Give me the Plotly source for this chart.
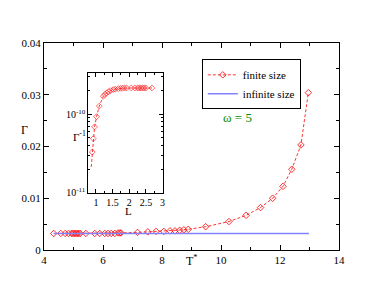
import plotly.graph_objects as go

# Main panel data: finite size
T_finite = [4.33, 4.57, 4.72, 4.83, 4.93, 4.98, 5.03, 5.08, 5.13, 5.18, 5.23, 5.42, 5.72,
            5.89, 6.06, 6.17, 6.28, 6.40, 6.51, 6.57, 6.61, 7.17, 7.52, 7.80, 8.06, 8.27,
            8.44, 8.60, 8.74, 8.89, 9.48, 10.27, 10.85, 11.34, 11.75, 12.10, 12.40, 12.71, 12.96]
G_finite = [0.0032, 0.0032, 0.0032, 0.0032, 0.0032, 0.0032, 0.0032, 0.0032, 0.0032, 0.0032,
            0.0032, 0.0032, 0.0032, 0.0032, 0.0032, 0.0032, 0.0032, 0.0032, 0.0033, 0.0033,
            0.0033, 0.0034, 0.0035, 0.0036, 0.0036, 0.0037, 0.0037, 0.0038, 0.0039, 0.0040,
            0.0045, 0.0055, 0.0067, 0.0082, 0.0100, 0.0123, 0.0156, 0.0203, 0.0304]

# Main panel data: infinite size
T_infinite = [4.33, 12.98]
G_infinite = [0.0032, 0.0032]

# Inset data
L_inset = [0.86, 0.89, 0.92, 0.96, 1.02, 1.10, 1.22, 1.27, 1.32, 1.38, 1.44, 1.52, 1.58,
           1.67, 1.74, 1.80, 1.86, 1.92, 2.06, 2.17, 2.25, 2.30, 2.35, 2.40, 2.45, 2.50, 2.68]
Ginv_inset = [2.14e-11, 3.31e-11, 4.90e-11, 6.92e-11, 9.33e-11, 1.27e-10, 1.69e-10, 1.79e-10,
              1.87e-10, 1.94e-10, 2.00e-10, 2.06e-10, 2.09e-10, 2.12e-10, 2.14e-10, 2.15e-10,
              2.16e-10, 2.16e-10, 2.16e-10, 2.16e-10, 2.16e-10, 2.16e-10, 2.16e-10, 2.16e-10,
              2.16e-10, 2.16e-10, 2.16e-10]

x_ticks = [4, 6, 8, 10, 12, 14]
y_ticks = [0, 0.01, 0.02, 0.03, 0.04]
inset_x_ticks = [1, 1.5, 2, 2.5, 3]
inset_y_ticks = [1e-11, 1e-10]
inset_y_ticktext = ["10<sup>-11</sup>", "10<sup>-10</sup>"]

RED = "rgba(255,0,0,0.8)"
BLUE = "rgb(130,130,255)"
FONT = "Liberation Serif, Times New Roman, serif"

fig = go.Figure()
fig.add_trace(go.Scatter(
    x=T_finite, y=G_finite, mode="lines+markers", name="finite size",
    line=dict(color=RED, width=1, dash="3px,2px"),
    marker=dict(symbol="diamond-open", size=5, color=RED, line=dict(width=1)),
))
fig.add_trace(go.Scatter(
    x=T_infinite, y=G_infinite, mode="lines", name="infinite size",
    line=dict(color=BLUE, width=1.5),
))
fig.add_trace(go.Scatter(
    x=L_inset, y=Ginv_inset, mode="lines+markers", showlegend=False,
    xaxis="x2", yaxis="y2",
    line=dict(color=RED, width=1, dash="3px,2px"),
    marker=dict(symbol="diamond-open", size=[0] + [4.5] * (len(L_inset) - 1), color=RED,
                line=dict(width=1)),
))

axis_common = dict(showline=True, linecolor="black", linewidth=1, mirror="allticks",
                   ticks="inside", showgrid=False, zeroline=False, automargin=False,
                   tickcolor="black",
                   tickfont=dict(family=FONT, size=11, color="black"))
inset_common = dict(showline=True, linecolor="black", linewidth=1, mirror="allticks",
                    ticks="inside", showgrid=False, zeroline=False, automargin=False,
                    tickcolor="black",
                    tickfont=dict(family=FONT, size=10, color="black"))

fig.update_layout(
    template="none",
    width=382, height=295,
    margin=dict(l=36, r=51, t=35, b=53, autoexpand=False),
    paper_bgcolor="white", plot_bgcolor="white",
    font=dict(family=FONT, color="black"),
    xaxis=dict(range=[4, 14], tickvals=x_ticks, ticklen=5,
               minor=dict(dtick=1, ticks="inside", ticklen=3, tickcolor="black"),
               **axis_common),
    yaxis=dict(range=[0, 0.04], tickvals=y_ticks, ticklen=5,
               minor=dict(dtick=0.005, ticks="inside", ticklen=3, tickcolor="black"),
               **axis_common),
    xaxis2=dict(domain=[0.150, 0.402], anchor="y2", range=[0.77, 3], tickvals=inset_x_ticks,
                ticklen=4, minor=dict(dtick=0.25, ticks="inside", ticklen=2, tickcolor="black"),
                **inset_common),
    yaxis2=dict(domain=[0.276, 0.855], anchor="x2", type="log", range=[-11, -9.475],
                tickvals=inset_y_ticks, ticktext=inset_y_ticktext, ticklen=4,
                minor=dict(tickvals=[2e-11, 3e-11, 4e-11, 5e-11, 6e-11, 7e-11, 8e-11, 9e-11,
                                     2e-10, 3e-10],
                           ticks="inside", ticklen=2, tickcolor="black"),
                **inset_common),
    legend=dict(x=0.535, y=0.921, xanchor="left", yanchor="top",
                bgcolor="white", bordercolor="black", borderwidth=1,
                font=dict(family=FONT, size=11, color="black"),
                itemwidth=30, tracegroupgap=0),
    showlegend=True,
    annotations=[
        dict(text="ω = 5", x=0.657, y=0.642, xref="paper", yref="paper", showarrow=False,
             font=dict(family=FONT, size=13, color="rgb(0,139,0)")),
        dict(text="Γ", x=-0.085, y=0.58, xref="paper", yref="paper", showarrow=False,
             font=dict(family=FONT, size=12, color="black")),
        dict(text="T<sup>*</sup>", x=0.5, y=-0.095, xref="paper", yref="paper",
             showarrow=False, font=dict(family=FONT, size=12, color="black")),
        dict(text="Γ<sup>-1</sup>", x=0.090, y=0.55, xref="paper", yref="paper",
             showarrow=False, font=dict(family=FONT, size=11, color="black")),
        dict(text="L", x=0.268, y=0.148, xref="paper", yref="paper", showarrow=False,
             font=dict(family=FONT, size=11, color="black")),
    ],
)

fig.write_html("out.html")
